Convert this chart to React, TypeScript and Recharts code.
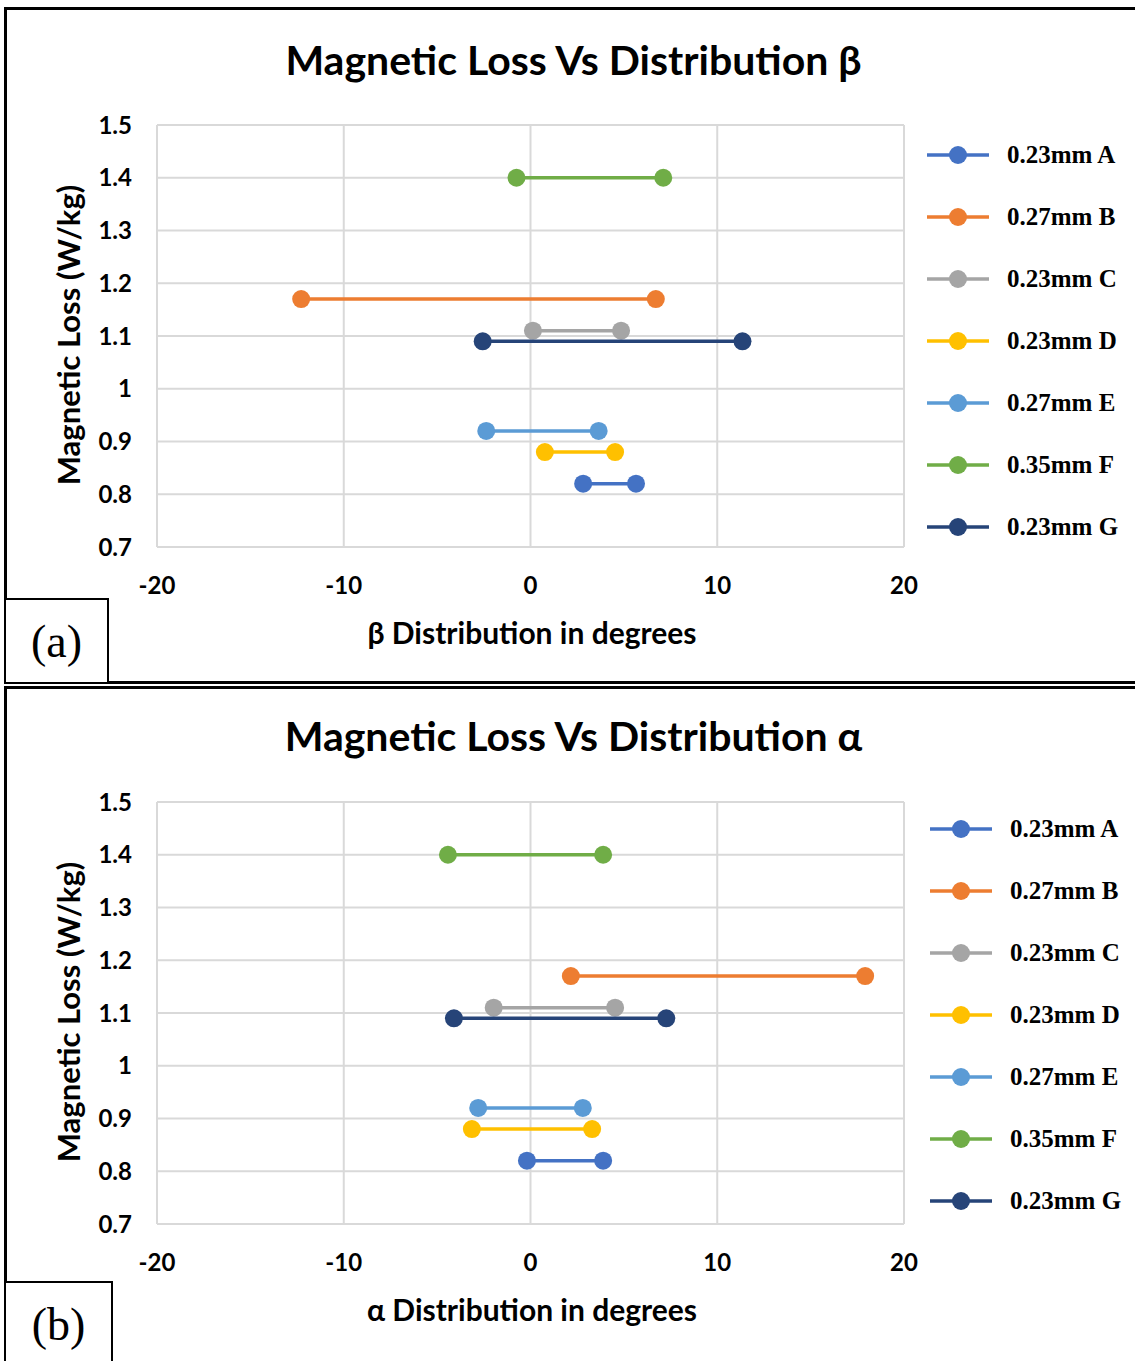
import { ScatterChart, Scatter, XAxis, YAxis, CartesianGrid } from 'recharts';

const seriesNames = ['0.23mm A', '0.27mm B', '0.23mm C', '0.23mm D', '0.27mm E', '0.35mm F', '0.23mm G'];
const seriesColors = ['#4472C4', '#ED7D31', '#A5A5A5', '#FFC000', '#5B9BD5', '#70AD47', '#264478'];
const lossValues = [0.82, 1.17, 1.11, 0.88, 0.92, 1.4, 1.09];

// beta distribution (panel a): left and right ends of each range
const betaMin = [2.82, -12.28, 0.13, 0.77, -2.37, -0.75, -2.56];
const betaMax = [5.65, 6.71, 4.85, 4.53, 3.65, 7.11, 11.35];

// alpha distribution (panel b)
const alphaMin = [-0.19, 2.16, -1.97, -3.14, -2.8, -4.42, -4.1];
const alphaMax = [3.89, 17.92, 4.53, 3.3, 2.8, 3.89, 7.27];

const xTicks = [-20, -10, 0, 10, 20];
const yTicks = [0.7, 0.8, 0.9, 1, 1.1, 1.2, 1.3, 1.4, 1.5];

const sans = "Lato, 'Open Sans', sans-serif";
const serif = "'Liberation Serif', serif";
const grid = '#d9d9d9';

const tickStyle = { fill: '#000', fontSize: 24, fontWeight: 700, fontFamily: sans };

function Dot(props: any) {
  const { cx, cy, fill } = props;
  return <circle cx={cx} cy={cy} r={9} fill={fill} />;
}

function Legend7({ left, top }: { left: number; top: number }) {
  return (
    <div style={{ position: 'absolute', left, top }}>
      {seriesNames.map((name, i) => (
        <div key={name} style={{ height: 62, display: 'flex', alignItems: 'center' }}>
          <svg width={66} height={20} style={{ display: 'block' }}>
            <line x1={2} y1={10} x2={64} y2={10} stroke={seriesColors[i]} strokeWidth={3.5} />
            <circle cx={33} cy={10} r={9} fill={seriesColors[i]} />
          </svg>
          <span
            style={{
              marginLeft: 16,
              fontFamily: serif,
              fontWeight: 700,
              fontSize: 25,
              color: '#000',
              whiteSpace: 'nowrap',
            }}
          >
            {name}
          </span>
        </div>
      ))}
    </div>
  );
}

type PanelProps = {
  top: number;
  height: number;
  plotTop: number;
  plotBottom: number;
  title: string;
  xLabel: string;
  mins: number[];
  maxs: number[];
  letter: string;
  letterTop: number;
  letterWidth: number;
  legendTop: number;
};

function Panel(p: PanelProps) {
  const marginBottom = p.top + p.height - p.plotBottom - 40;
  return (
    <>
      <div
        style={{
          position: 'absolute',
          left: 0,
          top: p.top,
        }}
      >
        <ScatterChart
          width={1135}
          height={p.height}
          margin={{ top: p.plotTop - p.top, right: 231, bottom: marginBottom, left: 0 }}
        >
          <CartesianGrid stroke={grid} strokeWidth={2} />
          <XAxis
            type="number"
            dataKey="x"
            domain={[-20, 20]}
            ticks={xTicks}
            height={40}
            tickLine={false}
            tickSize={0}
            tickMargin={30}
            axisLine={{ stroke: grid, strokeWidth: 2 }}
            tick={tickStyle}
          />
          <YAxis
            type="number"
            dataKey="y"
            domain={[0.7, 1.5]}
            ticks={yTicks}
            width={157}
            tickLine={false}
            tickSize={0}
            tickMargin={25}
            axisLine={{ stroke: grid, strokeWidth: 2 }}
            tick={tickStyle}
          />
          {seriesNames.map((name, i) => (
            <Scatter
              key={name}
              name={name}
              data={[
                { x: p.mins[i], y: lossValues[i] },
                { x: p.maxs[i], y: lossValues[i] },
              ]}
              fill={seriesColors[i]}
              line={{ stroke: seriesColors[i], strokeWidth: 3.5 }}
              lineType="joint"
              shape={<Dot />}
              isAnimationActive={false}
            />
          ))}
        </ScatterChart>
      </div>
      <div
        style={{
          position: 'absolute',
          left: 0,
          width: 1147,
          top: p.top + (p.top === 0 ? 38 : 28),
          lineHeight: '44px',
          textAlign: 'center',
          fontFamily: sans,
          fontWeight: 700,
          fontSize: 41,
          color: '#000',
        }}
      >
        {p.title}
      </div>
      <div
        style={{
          position: 'absolute',
          left: 68,
          top: (p.plotTop + p.plotBottom) / 2 - 1,
          transform: 'translate(-50%, -50%) rotate(-90deg)',
          whiteSpace: 'nowrap',
          fontFamily: sans,
          fontWeight: 700,
          fontSize: 31,
          color: '#000',
        }}
      >
        Magnetic Loss (W/kg)
      </div>
      <div
        style={{
          position: 'absolute',
          left: 532,
          top: p.plotBottom + 85,
          transform: 'translate(-50%, -50%)',
          whiteSpace: 'nowrap',
          fontFamily: sans,
          fontWeight: 700,
          fontSize: 30,
          color: '#000',
        }}
      >
        {p.xLabel}
      </div>
      <Legend7 left={p.top === 0 ? 925 : 928} top={p.legendTop} />
      <div
        style={{
          position: 'absolute',
          left: 4,
          top: p.letterTop,
          width: p.letterWidth,
          height: 86,
          boxSizing: 'border-box',
          border: '2px solid #000',
          display: 'flex',
          alignItems: 'center',
          justifyContent: 'center',
          fontFamily: serif,
          fontSize: 46,
          color: '#000',
          background: '#fff',
        }}
      >
        {p.letter}
      </div>
    </>
  );
}

export default function App() {
  return (
    <div
      style={{
        position: 'absolute',
        left: 0,
        top: 0,
        width: 1135,
        height: 1361,
        overflow: 'hidden',
        background: '#fff',
      }}
    >
      <div
        style={{
          position: 'absolute',
          left: 4,
          top: 7,
          width: 1200,
          height: 677,
          boxSizing: 'border-box',
          border: '3px solid #000',
        }}
      />
      <div
        style={{
          position: 'absolute',
          left: 4,
          top: 686,
          width: 1200,
          height: 700,
          boxSizing: 'border-box',
          border: '3px solid #000',
        }}
      />
      <Panel
        top={0}
        height={685}
        plotTop={125}
        plotBottom={547}
        title="Magnetic Loss Vs Distribution β"
        xLabel="β Distribution in degrees"
        mins={betaMin}
        maxs={betaMax}
        letter="(a)"
        letterTop={598}
        letterWidth={105}
        legendTop={124}
      />
      <Panel
        top={686}
        height={675}
        plotTop={802}
        plotBottom={1224}
        title="Magnetic Loss Vs Distribution α"
        xLabel="α Distribution in degrees"
        mins={alphaMin}
        maxs={alphaMax}
        letter="(b)"
        letterTop={1281}
        letterWidth={109}
        legendTop={798}
      />
    </div>
  );
}
